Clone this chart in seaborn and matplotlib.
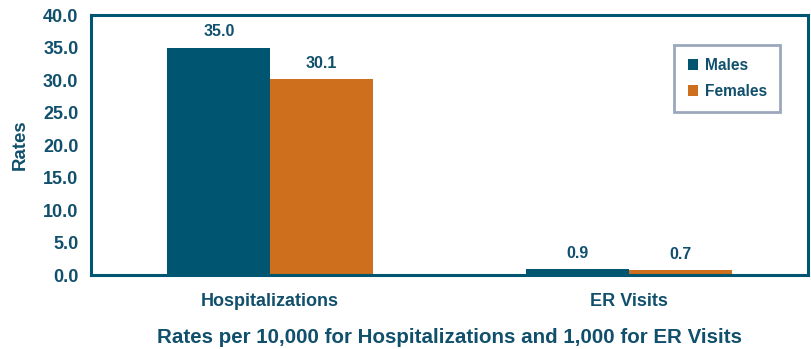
import matplotlib
matplotlib.use("Agg")
import matplotlib.pyplot as plt
import seaborn as sns
import pandas as pd

categories = ["Hospitalizations", "ER Visits"]
groups = ["Males", "Females"]
males = [35.0, 0.9]
females = [30.1, 0.7]
yticks = [0, 5, 10, 15, 20, 25, 30, 35, 40]

TEXT = "#11506c"
TEAL = "#005570"
ORANGE = "#cd6f1c"

df = pd.DataFrame({
    "Category": categories * 2,
    "Sex": ["Males"] * len(categories) + ["Females"] * len(categories),
    "Rate": males + females,
})

sns.set_theme(style="white")
plt.rcParams["font.family"] = ["Liberation Sans", "DejaVu Sans"]
plt.rcParams["font.weight"] = "bold"

fig = plt.figure(figsize=(8.11, 3.49), dpi=100)
ax = fig.add_axes([0.1122, 0.212, 0.8841, 0.745])

sns.barplot(data=df, x="Category", y="Rate", hue="Sex", hue_order=groups,
            palette=[TEAL, ORANGE], width=0.574, gap=0, saturation=1,
            edgecolor="none", linewidth=0, ax=ax)

ax.set_xlim(-0.5, 1.5)
ax.set_ylim(0, 40)
ax.set_yticks(yticks)
ax.set_yticklabels([f"{v:.1f}" for v in yticks])
ax.tick_params(axis="y", length=0, labelcolor=TEXT, labelsize=13, pad=9)
ax.tick_params(axis="x", length=0, labelcolor=TEXT, labelsize=13, pad=13)
for lab in ax.get_xticklabels() + ax.get_yticklabels():
    lab.set_fontweight("bold")

for sp in ax.spines.values():
    sp.set_visible(True)
    sp.set_color(TEAL)
    sp.set_linewidth(2.2)

for cont in ax.containers:
    ax.bar_label(cont, fmt="%.1f", padding=6, color=TEXT, fontsize=11.5, fontweight="bold")

ax.set_ylabel("Rates", color=TEXT, fontsize=13.4, fontweight="bold", labelpad=10)
ax.set_xlabel("Rates per 10,000 for Hospitalizations and 1,000 for ER Visits",
              color=TEXT, fontsize=14.8, fontweight="bold", labelpad=13)

leg = ax.legend(loc="upper right", bbox_to_anchor=(0.961, 0.885), frameon=True,
                fancybox=False, fontsize=11.2, handlelength=0.65, handleheight=0.65,
                handletextpad=0.45, borderpad=0.85, labelspacing=0.7, borderaxespad=0)
leg.get_frame().set_edgecolor("#8292ab")
leg.get_frame().set_linewidth(2)
for t in leg.get_texts():
    t.set_color(TEXT)
    t.set_fontweight("bold")

fig.savefig("out.png", dpi=100)
